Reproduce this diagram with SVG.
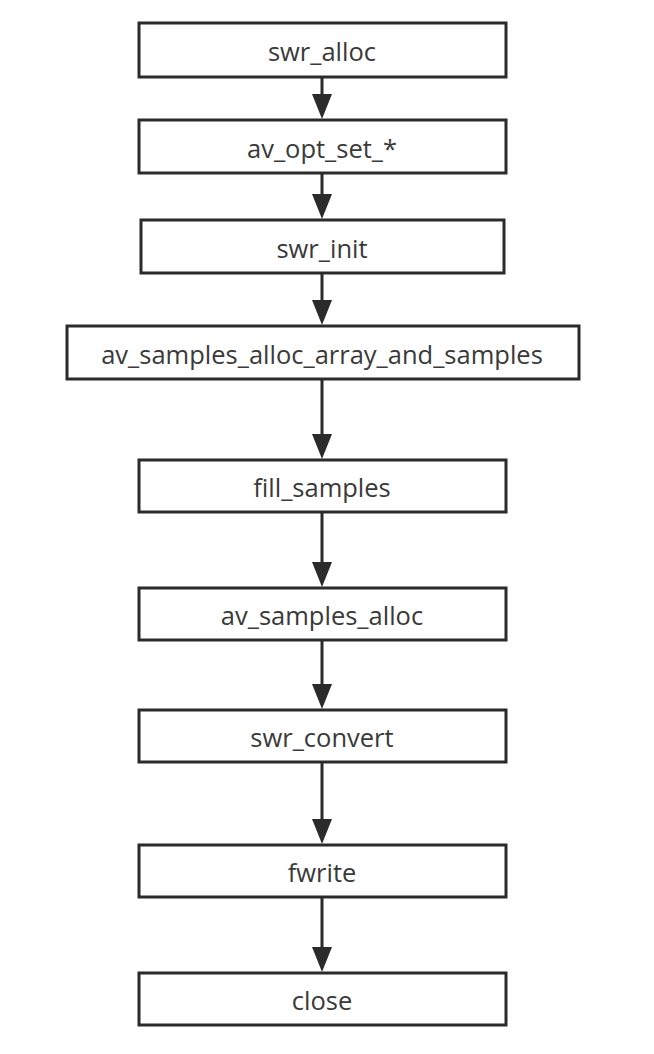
<svg xmlns="http://www.w3.org/2000/svg" width="654" height="1054" viewBox="0 0 654 1054">
<style>
.box{fill:#fff;stroke:#2b2b2b;stroke-width:3}
.lbl{font-family:"Open Sans","Noto Sans",sans-serif;font-size:25.5px;fill:#3a3a3a;text-anchor:middle;dominant-baseline:central}
.edge{stroke:#2b2b2b;stroke-width:3;fill:none}
.head{fill:#2b2b2b}
</style>
<rect width="654" height="1054" fill="#fff"/>
<g id="connectors">
<line class="edge" x1="322" y1="77" x2="322" y2="96"/><polygon class="head" points="312,94 332,94 322,119"/>
<line class="edge" x1="322" y1="173" x2="322" y2="196"/><polygon class="head" points="312,194 332,194 322,219"/>
<line class="edge" x1="322" y1="273" x2="322" y2="302"/><polygon class="head" points="312,300 332,300 322,325"/>
<line class="edge" x1="322" y1="379" x2="322" y2="436"/><polygon class="head" points="312,434 332,434 322,459"/>
<line class="edge" x1="322" y1="512" x2="322" y2="564"/><polygon class="head" points="312,562 332,562 322,587"/>
<line class="edge" x1="322" y1="640" x2="322" y2="686"/><polygon class="head" points="312,684 332,684 322,709"/>
<line class="edge" x1="322" y1="762" x2="322" y2="821"/><polygon class="head" points="312,819 332,819 322,844"/>
<line class="edge" x1="322" y1="897" x2="322" y2="949"/><polygon class="head" points="312,947 332,947 322,972"/>
</g>
<g id="n1"><rect class="box" x="139" y="23" width="367" height="54"/><text class="lbl" x="322" y="51">swr_alloc</text></g>
<g id="n2"><rect class="box" x="139" y="120" width="367" height="53"/><text class="lbl" x="322" y="148">av_opt_set_*</text></g>
<g id="n3"><rect class="box" x="141" y="220" width="363" height="53"/><text class="lbl" x="322" y="248">swr_init</text></g>
<g id="n4"><rect class="box" x="67" y="326" width="512" height="53"/><text class="lbl" x="322" y="354">av_samples_alloc_array_and_samples</text></g>
<g id="n5"><rect class="box" x="139" y="460" width="367" height="52"/><text class="lbl" x="322" y="487">fill_samples</text></g>
<g id="n6"><rect class="box" x="139" y="588" width="367" height="52"/><text class="lbl" x="322" y="615">av_samples_alloc</text></g>
<g id="n7"><rect class="box" x="139" y="710" width="367" height="52"/><text class="lbl" x="322" y="737">swr_convert</text></g>
<g id="n8"><rect class="box" x="139" y="845" width="367" height="52"/><text class="lbl" x="322" y="872">fwrite</text></g>
<g id="n9"><rect class="box" x="139" y="973" width="367" height="52"/><text class="lbl" x="322" y="1000">close</text></g>
</svg>
